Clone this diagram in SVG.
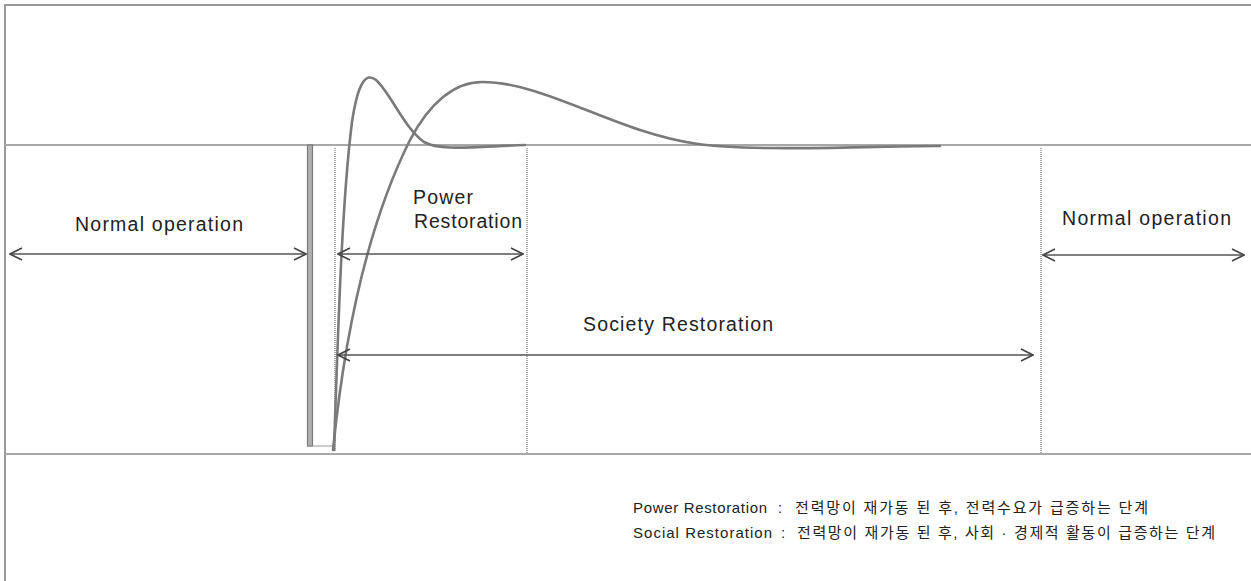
<svg xmlns="http://www.w3.org/2000/svg" width="1251" height="581" viewBox="0 0 1251 581">
  <style>
    .frame { stroke: #9a9a9a; stroke-width: 2; fill: none; }
    .axis { stroke: #a8a8a8; stroke-width: 2; fill: none; }
    .divider { stroke: #8a8a8a; stroke-width: 1.5; stroke-dasharray: 1 1; fill: none; }
    .curve { stroke: #7a7a7a; stroke-width: 2.6; fill: none; stroke-linecap: round; }
    .span { stroke: #555; stroke-width: 1.5; fill: none; marker-start: url(#head); marker-end: url(#head); }
    .label { font-family: "Liberation Sans", Arial, sans-serif; font-size: 19.5px; fill: #222; }
    .note { font-family: "Liberation Sans", "Noto Sans CJK KR", sans-serif; font-size: 15px; fill: #222; }
  </style>
  <defs>
    <marker id="head" viewBox="0 0 14 14" refX="13" refY="7" markerWidth="14" markerHeight="14" markerUnits="userSpaceOnUse" orient="auto-start-reverse">
      <path d="M1,1 L13,7 L1,13" fill="none" stroke="#444" stroke-width="1.6"/>
    </marker>
  </defs>

  <rect width="1251" height="581" fill="#fff"/>

  <!-- outer frame: top and left edges -->
  <g id="frame">
    <path class="frame" d="M5,581 V5 H1251"/>
  </g>

  <!-- reference level and floor -->
  <g id="axes">
    <line class="axis" x1="5" y1="145" x2="1251" y2="145"/>
    <line class="axis" x1="5" y1="454" x2="1251" y2="454"/>
  </g>

  <!-- blackout bar -->
  <g id="blackout">
    <rect x="307.5" y="145" width="5" height="301" fill="#b0b0b0" stroke="#7a7a7a" stroke-width="1.2"/>
    <line x1="307" y1="446" x2="335" y2="446" stroke="#999" stroke-width="1"/>
  </g>

  <!-- phase boundaries -->
  <g id="boundaries">
    <line class="divider" x1="335" y1="148" x2="335" y2="452"/>
    <line class="divider" x1="527" y1="148" x2="527" y2="454"/>
    <line class="divider" x1="1041" y1="148" x2="1041" y2="454"/>
  </g>

  <!-- recovery curves -->
  <g id="curves">
    <path id="power-curve" class="curve" d="M334,450 C338,330 342,200 352,122 C358,82 366,72 376,80 C390,92 404,128 424,142 C440,151 470,147 525,145"/>
    <path id="society-curve" class="curve" d="M333,450 C345,330 370,220 410,140 C430,102 455,82 482,82 C530,82 580,110 640,130 C680,143 705,147 765,148 C825,149 880,146 940,146"/>
  </g>

  <!-- phase spans -->
  <g id="connectors">
    <line class="span" x1="10" y1="254" x2="306" y2="254"/>
    <line class="span" x1="338" y1="254" x2="523" y2="254"/>
    <line class="span" x1="338" y1="355" x2="1033" y2="355"/>
    <line class="span" x1="1043" y1="255" x2="1244" y2="255"/>
  </g>

  <g id="normal-left">
    <text class="label" x="75" y="231" textLength="168" lengthAdjust="spacing">Normal operation</text>
  </g>
  <g id="power-restoration">
    <text class="label" x="413" y="204" textLength="60" lengthAdjust="spacing">Power</text>
    <text class="label" x="414" y="228" textLength="108" lengthAdjust="spacing">Restoration</text>
  </g>
  <g id="society-restoration">
    <text class="label" x="583" y="331" textLength="190" lengthAdjust="spacing">Society Restoration</text>
  </g>
  <g id="normal-right">
    <text class="label" x="1062" y="225" textLength="169" lengthAdjust="spacing">Normal operation</text>
  </g>

  <!-- definitions -->
  <g id="legend">
    <text class="note" y="513"><tspan x="633" textLength="134" lengthAdjust="spacing">Power Restoration</tspan><tspan x="778">:</tspan><tspan x="795" textLength="353" lengthAdjust="spacing">전력망이 재가동 된 후, 전력수요가 급증하는 단계</tspan></text>
    <text class="note" y="538"><tspan x="633" textLength="139" lengthAdjust="spacing">Social Restoration</tspan><tspan x="781">:</tspan><tspan x="797" textLength="418" lengthAdjust="spacing">전력망이 재가동 된 후, 사회 · 경제적 활동이 급증하는 단계</tspan></text>
  </g>
</svg>
